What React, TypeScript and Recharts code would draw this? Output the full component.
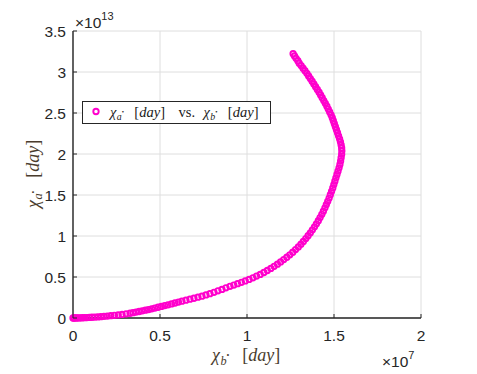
import React from "react";
import {
	CartesianGrid,
	Legend,
	Scatter,
	ScatterChart,
	XAxis,
	YAxis,
} from "recharts";

// chi_b* (x, in units of 1e7 day) and chi_a* (y, in units of 1e13 day)
const chiB = [
	0, 0.005, 0.01, 0.017, 0.025, 0.034, 0.044, 0.055, 0.067, 0.08, 0.094,
	0.109, 0.125, 0.142, 0.16, 0.178, 0.197, 0.217, 0.238, 0.26, 0.282, 0.305,
	0.328, 0.345, 0.362, 0.38, 0.398, 0.416, 0.434, 0.452, 0.47, 0.489, 0.508,
	0.527, 0.546, 0.566, 0.586, 0.606, 0.626, 0.649, 0.672, 0.695, 0.718, 0.741,
	0.764, 0.787, 0.81, 0.833, 0.856, 0.879, 0.902, 0.924, 0.946, 0.968, 0.99,
	1.012, 1.034, 1.055, 1.076, 1.097, 1.117, 1.137, 1.156, 1.175, 1.193, 1.211,
	1.229, 1.246, 1.263, 1.279, 1.295, 1.31, 1.324, 1.338, 1.351, 1.364, 1.376,
	1.388, 1.399, 1.41, 1.42, 1.43, 1.439, 1.448, 1.456, 1.464, 1.472, 1.479,
	1.486, 1.493, 1.499, 1.505, 1.511, 1.517, 1.523, 1.529, 1.534, 1.538, 1.541,
	1.544, 1.545, 1.544, 1.541, 1.537, 1.532, 1.526, 1.52, 1.514, 1.508, 1.502,
	1.496, 1.49, 1.483, 1.475, 1.467, 1.459, 1.45, 1.441, 1.432, 1.423, 1.414,
	1.404, 1.394, 1.384, 1.374, 1.364, 1.354, 1.344, 1.333, 1.322, 1.311, 1.3,
	1.292, 1.282, 1.273, 1.265,
];

const chiA = [
	0, 0.0002, 0.0004, 0.0006, 0.001, 0.0015, 0.002, 0.003, 0.004, 0.005, 0.007,
	0.009, 0.011, 0.013, 0.016, 0.02, 0.023, 0.028, 0.033, 0.038, 0.044, 0.051,
	0.058, 0.065, 0.072, 0.079, 0.087, 0.095, 0.103, 0.112, 0.121, 0.131, 0.141,
	0.151, 0.161, 0.172, 0.183, 0.194, 0.205, 0.217, 0.229, 0.241, 0.254, 0.266,
	0.281, 0.297, 0.313, 0.331, 0.349, 0.368, 0.386, 0.402, 0.418, 0.435, 0.452,
	0.47, 0.49, 0.511, 0.532, 0.555, 0.579, 0.604, 0.63, 0.657, 0.684, 0.712,
	0.741, 0.771, 0.802, 0.834, 0.867, 0.9, 0.934, 0.968, 1.003, 1.039, 1.075,
	1.112, 1.149, 1.187, 1.225, 1.264, 1.303, 1.343, 1.383, 1.423, 1.463, 1.504,
	1.545, 1.586, 1.627, 1.668, 1.709, 1.75, 1.791, 1.832, 1.873, 1.914, 1.955,
	1.996, 2.037, 2.074, 2.111, 2.148, 2.185, 2.222, 2.259, 2.296, 2.333, 2.37,
	2.406, 2.442, 2.478, 2.513, 2.548, 2.583, 2.618, 2.652, 2.686, 2.72, 2.754,
	2.788, 2.821, 2.854, 2.887, 2.92, 2.952, 2.984, 3.016, 3.047, 3.078, 3.108,
	3.138, 3.167, 3.196, 3.224,
];

const xTicks = [0, 0.5, 1, 1.5, 2];
const yTicks = [0, 0.5, 1, 1.5, 2, 2.5, 3, 3.5];

const points = chiB.map((x, i) => ({ x, y: chiA[i] }));

const MAGENTA = "#ff00cc";
const AXIS = "#262626";
const LABEL = "#4a3c2e";
const SANS = "'Liberation Sans', Arial, sans-serif";
const SERIF = "'Liberation Serif', 'Times New Roman', serif";

const XTick = ({ x, y, payload }: any) => (
	<g>
		<line x1={x} x2={x} y1={y} y2={y - 4} stroke={AXIS} strokeWidth={1} />
		<text x={x} y={y + 23} textAnchor="middle" fontSize={15.5} fontFamily={SANS} fill={AXIS}>
			{payload.value}
		</text>
	</g>
);

const YTick = ({ x, y, payload }: any) => (
	<g>
		<line x1={x} x2={x + 4} y1={y} y2={y} stroke={AXIS} strokeWidth={1} />
		<text x={x - 7} y={y + 6} textAnchor="end" fontSize={15.5} fontFamily={SANS} fill={AXIS}>
			{payload.value}
		</text>
	</g>
);

const Marker = (props: any) => (
	<circle cx={props.cx} cy={props.cy} r={2.7} fill="none" stroke={MAGENTA} strokeWidth={1.9} />
);

// chi with a sub/superscript, then " [day]"; x0 = where chi starts
const ChiDay = ({ x0, sub, size }: { x0: number; sub: string; size: number }) => (
	<>
		<tspan x={x0} fontStyle="italic">χ</tspan>
		<tspan x={x0 + size * 0.47} fontStyle="italic" fontSize={size * 0.68} dy={size * 0.22}>
			{sub}
		</tspan>
		<tspan fontSize={size * 0.45} dy={-size * 0.38}>•</tspan>
		<tspan x={x0 + size * 1.68} dy={size * 0.16}>[</tspan>
		<tspan fontStyle="italic">day</tspan>
		<tspan>]</tspan>
	</>
);

const LegendBox = () => (
	<div
		style={{
			width: 189,
			height: 23,
			border: `1.6px solid ${AXIS}`,
			background: "#fff",
			boxSizing: "border-box",
		}}
	>
		<svg width={186} height={20} style={{ display: "block" }}>
			<circle cx={13} cy={9.5} r={2.7} fill="none" stroke={MAGENTA} strokeWidth={1.9} />
			<text y={14.5} fontFamily={SERIF} fontSize={14.5} fill="#1a1a1a">
				<ChiDay x0={27} sub="a" size={14.5} />
				<tspan x={95.5}>vs.</tspan>
				<ChiDay x0={120.5} sub="b" size={14.5} />
			</text>
		</svg>
	</div>
);

export default function App() {
	return (
		<div style={{ position: "absolute", left: 0, top: 0, width: 477, height: 374, background: "#fff" }}>
			<ScatterChart
				width={477}
				height={374}
				margin={{ top: 31, right: 56, bottom: 16, left: 33 }}
			>
				<CartesianGrid stroke="#dedede" strokeWidth={1} />
				<XAxis
					type="number"
					dataKey="x"
					domain={[0, 2]}
					ticks={xTicks}
					height={40}
					tickSize={0}
					tickMargin={0}
					tick={<XTick />}
					axisLine={{ stroke: AXIS, strokeWidth: 1.4 }}
					tickLine={false}
				/>
				<YAxis
					type="number"
					dataKey="y"
					domain={[0, 3.5]}
					ticks={yTicks}
					width={40}
					tickSize={0}
					tickMargin={0}
					tick={<YTick />}
					axisLine={{ stroke: AXIS, strokeWidth: 1.4 }}
					tickLine={false}
				/>
				<Legend
					layout="horizontal"
					verticalAlign="middle"
					align="center"
					wrapperStyle={{ left: 82, top: 100.5, width: "auto" }}
					content={() => <LegendBox />}
				/>
				<Scatter
					data={points}
					shape={Marker}
					isAnimationActive={false}
				/>
			</ScatterChart>
			<svg
				width={477}
				height={374}
				style={{ position: "absolute", left: 0, top: 0, pointerEvents: "none" }}
			>
				<text x={75} y={28} fontFamily={SANS} fontSize={15.5} fill={AXIS}>
					×10
					<tspan fontSize={11} dy={-8}>13</tspan>
				</text>
				<text x={382} y={367} fontFamily={SANS} fontSize={15.5} fill={AXIS}>
					×10
					<tspan fontSize={11} dy={-8}>7</tspan>
				</text>
				<text y={361} fontFamily={SERIF} fontSize={18} fill={LABEL}>
					<ChiDay x0={212} sub="b" size={18} />
				</text>
				<g transform="translate(38.5,175) rotate(-90)">
					<text y={0} fontFamily={SERIF} fontSize={18} fill={LABEL}>
						<ChiDay x0={-33} sub="a" size={18} />
					</text>
				</g>
			</svg>
		</div>
	);
}
